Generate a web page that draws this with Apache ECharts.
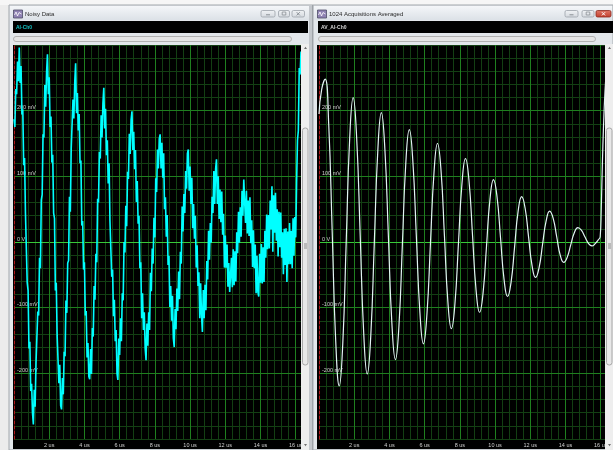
<!DOCTYPE html>
<html>
<head>
<meta charset="utf-8">
<script src="https://cdn.jsdelivr.net/npm/echarts@6/dist/echarts.min.js"></script>
<style>
  html, body { margin: 0; padding: 0; background: #ececec; }
  #chart { width: 613px; height: 450px; }
</style>
</head>
<body>
<div id="chart"></div>
<script>
// ---- Data -------------------------------------------------------------
// Single noisy acquisition, AI-Ch0, one sample every 0.05 us (mV).
const NOISY_STEP_US = 0.05;
const noisyMv = [
  187, 175, 233, 225, 275, 245,
  296, 242, 268, 194, 202, 117, 128, 45, 48, -62, -74, -162, -152, -227, -216, -260,
  -278, -225, -251, -184, -185, -106, -112, -24, -40, 64, 72, 164, 159, 239, 206, 258,
  286, 225, 251, 175, 191, 121, 133, 44, 36, -74, -62, -143, -144, -215, -187, -249,
  -255, -207, -232, -167, -174, -89, -108, -32, -28, 69, 46, 143, 143, 217, 188, 243,
  272, 196, 227, 170, 195, 120, 124, 25, 32, -42, -31, -112, -105, -176, -154, -205,
  -209, -163, -201, -131, -144, -67, -88, -18, -31, 66, 60, 137, 127, 193, 159, 211,
  235, 173, 203, 132, 155, 89, 120, 32, 32, -53, -42, -113, -88, -151, -134, -200,
  -210, -147, -172, -116, -151, -78, -89, 0, -16, 55, 24, 107, 96, 165, 134, 186,
  199, 140, 168, 111, 140, 61, 93, 28, 40, -40, -31, -116, -78, -134, -107, -162,
  -180, -124, -158, -107, -134, -47, -75, -10, -33, 37, 7, 97, 76, 141, 112, 157,
  164, 112, 151, 98, 135, 50, 68, 8, 41, -35, -21, -99, -67, -120, -82, -147,
  -160, -102, -133, -71, -105, -45, -87, -15, -33, 54, 16, 73, 44, 108, 81, 135,
  141, 78, 115, 58, 98, 21, 58, 5, 40, -39, -5, -67, -46, -116, -63, -111,
  -137, -73, -116, -65, -104, -29, -57, 17, -27, 29, -1, 69, 44, 108, 58, 111,
  126, 58, 100, 35, 80, 30, 77, 11, 43, -39, 10, -39, -4, -68, -32, -76,
  -77, -24, -69, -11, -66, -14, -60, 15, -17, 46, -1, 53, 8, 78, 40, 95,
  95, 29, 78, 13, 63, 9, 68, -2, 33, -38, 18, -40, -4, -78, -21, -76,
  -83, -18, -62, -3, -63, -8, -61, 17, -24, 42, -11, 41, -10, 63, 19, 85,
  -15, 71, 14, 75, 2, 50, -22, 46, -8, 45, -24, 15, -49, 20, -35, 21,
  -61, 16, -34, 29, -34, 17, -40, 36, -21, 38, 7, 90, 155, 170, 265, 255, 290
];

// 1024 acquisitions averaged, AV_AI-Ch0 (us, mV).
const averagedTimeUs = [
  0, 0.15, 0.35, 0.55, 0.75, 0.95, 1.15, 1.35, 1.545, 1.74, 1.94,
  2.14, 2.34, 2.54, 2.74, 2.94, 3.14, 3.34, 3.54, 3.74, 3.94, 4.14, 4.34,
  4.54, 4.735, 4.93, 5.13, 5.33, 5.53, 5.73, 5.93, 6.13, 6.33, 6.53, 6.73,
  6.93, 7.125, 7.32, 7.52, 7.72, 7.92, 8.12, 8.32, 8.52, 8.72, 8.92, 9.12,
  9.32, 9.515, 9.71, 9.91, 10.11, 10.31, 10.51, 10.71, 10.91, 11.11, 11.31, 11.51,
  11.71, 11.905, 12.1, 12.3, 12.5, 12.7, 12.9, 13.1, 13.3, 13.5, 13.7, 13.9,
  14.1, 14.3, 14.5, 14.7, 14.9, 15.1, 15.3, 15.5, 15.7, 15.85, 15.97, 16.03,
  16.1, 16.2, 16.3
];
const averagedMv = [
  195, 232, 248, 180, 15, -151, -219, -155, 0, 156, 220,
  158, 10, -139, -201, -143, -2, 139, 197, 142, 9, -124, -179,
  -128, -4, 120, 171, 123, 8, -107, -155, -110, -2, 105, 150,
  109, 9, -91, -132, -94, -2, 89, 127, 93, 10, -73, -107,
  -77, -6, 65, 95, 69, 6, -57, -83, -61, -7, 47, 69,
  51, 7, -36, -54, -39, -3, 32, 47, 36, 8, -20, -31,
  -23, -4, 14, 22, 18, 8, -2, -6, -2, 3, 8, 50,
  125, 205, 255
];

// Axis labelling
const timeLabelsUs = [2, 4, 6, 8, 10, 12, 14, 16];
const voltLabelsMv = [-200, -100, 0, 100, 200];
const windowTitles = ['Noisy Data', '1024 Acquisitions Averaged'];
const channelNames = ['AI-Ch0', 'AV_AI-Ch0'];

// ---- Styling ----------------------------------------------------------
const T_MAX = 16.3;
const FONT = '"Liberation Sans", Arial, sans-serif';
const LABEL_COLOR = '#cfcfcf';
const GRID_MINOR = '#133f13';
const GRID_MAJOR = '#1f7f1f';
const GRID_ZERO = '#38c838';
const PANEL_TOP = 45, PANEL_H = 394, PANEL_W = 287;
const PANEL_LEFTS = [14, 319];

function minorXAxis(gi) {
  return {
    gridIndex: gi, type: 'value', min: 0, max: T_MAX, interval: 0.4,
    position: 'top', z: 0,
    axisLine: { show: false }, axisTick: { show: false }, axisLabel: { show: false },
    splitLine: { show: true, showMinLine: false, showMaxLine: false,
                 lineStyle: { color: GRID_MINOR, width: 1 } }
  };
}
function majorXAxis(gi) {
  return {
    gridIndex: gi, type: 'value', min: 0, max: T_MAX, interval: 2,
    position: 'bottom', z: 1,
    axisLine: { show: false }, axisTick: { show: false },
    axisLabel: {
      margin: 3, color: LABEL_COLOR, fontSize: 5.5, fontFamily: FONT,
      formatter: v => (timeLabelsUs.includes(v) ? v + ' us' : '')
    },
    splitLine: { show: true, showMinLine: false, showMaxLine: false,
                 lineStyle: { color: GRID_MAJOR, width: 1 } }
  };
}
function voltAxis(gi) {
  return {
    gridIndex: gi, type: 'value', min: -300, max: 300, interval: 100,
    position: 'left', z: 1,
    axisLine: { show: true, onZero: false,
                lineStyle: { color: '#b3181b', width: 1, type: [3, 2] } },
    axisTick: { show: false },
    axisLabel: {
      inside: true, margin: 3, verticalAlign: 'bottom',
      color: LABEL_COLOR, fontSize: 5.5, fontFamily: FONT,
      formatter: v => (voltLabelsMv.includes(v) ? (v === 0 ? '0 V' : v + ' mV') : '')
    },
    splitLine: { show: true, lineStyle: { width: 1,
      color: [GRID_MINOR, GRID_MAJOR, GRID_MAJOR, GRID_ZERO, GRID_MAJOR, GRID_MAJOR, GRID_MINOR] } },
    minorTick: { show: false, splitNumber: 5 },
    minorSplitLine: { show: true, lineStyle: { color: GRID_MINOR, width: 1 } }
  };
}

// ---- Window chrome ----------------------------------------------------
function rect(x, y, w, h, fill, z, extra) {
  return Object.assign({ type: 'rect', silent: true, z: z,
    shape: { x: x, y: y, width: w, height: h }, style: { fill: fill } }, extra || {});
}
function text(x, y, str, fill, font, z) {
  return { type: 'text', silent: true, z: z, x: x, y: y,
    style: { text: str, fill: fill, font: font, verticalAlign: 'middle' } };
}
function line(x1, y1, x2, y2, stroke, z, w) {
  return { type: 'line', silent: true, z: z,
    shape: { x1: x1, y1: y1, x2: x2, y2: y2 }, style: { stroke: stroke, lineWidth: w || 1 } };
}
function tri(points, fill, z) {
  return { type: 'polygon', silent: true, z: z, shape: { points: points }, style: { fill: fill } };
}
const titleFill = { type: 'linear', x: 0, y: 0, x2: 0, y2: 1,
  colorStops: [{ offset: 0, color: '#f4f6f9' }, { offset: 1, color: '#dce1e7' }] };
const buttonFill = { type: 'linear', x: 0, y: 0, x2: 0, y2: 1,
  colorStops: [{ offset: 0, color: '#f2f4f6' }, { offset: 1, color: '#d3d8de' }] };
const closeFill = { type: 'linear', x: 0, y: 0, x2: 0, y2: 1,
  colorStops: [{ offset: 0, color: '#e07a6a' }, { offset: 1, color: '#c23d2c' }] };

function windowChrome(x0, w, titleIdx, buttons, closeRed) {
  const els = [];
  els.push(rect(x0, 5, w, 445, '#e3e7eb', -5, { style: { fill: '#e3e7eb', stroke: '#a3a8ad', lineWidth: 1 } }));
  els.push(rect(x0 + 1, 6, w - 2, 14, titleFill, -4));
  // icon
  els.push(rect(x0 + 4.5, 10, 9, 8, '#8f82b3', 10, { style: { fill: '#8f82b3', stroke: '#4d4d66', lineWidth: 0.8 } }));
  els.push({ type: 'polyline', silent: true, z: 11,
    shape: { points: [[x0 + 5.5, 15], [x0 + 7, 12], [x0 + 8.5, 16], [x0 + 10, 12.5], [x0 + 12.5, 14]] },
    style: { stroke: '#ffffff', lineWidth: 0.8, fill: null } });
  els.push(text(x0 + 16, 14, windowTitles[titleIdx], '#2b2b2b', '6px ' + FONT, 10));
  // title-bar buttons
  buttons.forEach((b, i) => {
    const isClose = i === 2;
    const fill = isClose && closeRed ? closeFill : buttonFill;
    els.push(rect(b[0], 10.5, b[1], 6.5, fill, 10,
      { shape: { x: b[0], y: 10.5, width: b[1], height: 6.5, r: 1.5 },
        style: { fill: fill, stroke: isClose && closeRed ? '#8c2a1f' : '#9ca2a9', lineWidth: 0.8 } }));
    const cx = b[0] + b[1] / 2;
    const glyph = isClose && closeRed ? '#ffffff' : '#8a9096';
    if (i === 0) els.push(line(cx - 2, 14.8, cx + 2, 14.8, glyph, 11, 1));
    if (i === 1) els.push(rect(cx - 1.8, 12, 3.6, 3, null, 11, { style: { fill: null, stroke: glyph, lineWidth: 0.8 } }));
    if (i === 2) {
      els.push(line(cx - 1.6, 12.2, cx + 1.6, 15.4, glyph, 11, 1));
      els.push(line(cx - 1.6, 15.4, cx + 1.6, 12.2, glyph, 11, 1));
    }
  });
  return els;
}

const graphics = []
  .concat([rect(0, 0, 613, 5, '#f6f6f6', -6)])
  .concat(windowChrome(9, 304, 0, [[261, 14], [278.5, 11], [292, 12.5]], false))
  .concat(windowChrome(313, 300, 1, [[565, 13], [582, 12], [596, 15]], true))
  .concat([
    // channel name bars
    rect(13, 21, 295, 12, '#000000', -3),
    rect(318, 21, 295, 12, '#000000', -3),
    text(16, 27.2, channelNames[0], '#14c4c4', 'bold 5px ' + FONT, 10),
    text(321, 27.2, channelNames[1], '#d8d8d8', 'bold 5px ' + FONT, 10),
    // horizontal scroll tracks
    rect(13.5, 36.5, 278, 5, '#e6e6e6', -3,
      { shape: { x: 13.5, y: 36.5, width: 278, height: 5, r: 2.5 }, style: { fill: '#e6e6e6', stroke: '#b2b2b2', lineWidth: 1 } }),
    rect(318.5, 36.5, 277, 5, '#e6e6e6', -3,
      { shape: { x: 318.5, y: 36.5, width: 277, height: 5, r: 2.5 }, style: { fill: '#e6e6e6', stroke: '#b2b2b2', lineWidth: 1 } }),
    // black plot panels (include the time-label band)
    rect(13, 45, 288, 404, '#000000', -3),
    rect(317, 45, 288, 404, '#000000', -3),
    // vertical scroll strips and window separator, drawn over the plots' edges
    rect(301, 44, 8, 406, '#eeeeee', 50),
    rect(309, 5, 4, 445, '#c3c7cc', 50),
    line(312.5, 5, 312.5, 450, '#9ea3a8', 51, 1),
    rect(605, 44, 8, 406, '#eeeeee', 50),
    rect(302.5, 128, 5.5, 237, '#e8e8e8', 51,
      { shape: { x: 302.5, y: 128, width: 5.5, height: 237, r: 2.5 }, style: { fill: '#e8e8e8', stroke: '#a8a8a8', lineWidth: 1 } }),
    rect(606.5, 128, 5.5, 237, '#e8e8e8', 51,
      { shape: { x: 606.5, y: 128, width: 5.5, height: 237, r: 2.5 }, style: { fill: '#e8e8e8', stroke: '#a8a8a8', lineWidth: 1 } }),
    line(304, 244, 307, 244, '#8d8d8d', 52), line(304, 246, 307, 246, '#8d8d8d', 52), line(304, 248, 307, 248, '#8d8d8d', 52),
    line(608, 244, 611, 244, '#8d8d8d', 52), line(608, 246, 611, 246, '#8d8d8d', 52), line(608, 248, 611, 248, '#8d8d8d', 52),
    tri([[304, 49], [307, 49], [305.5, 46.8]], '#6f6f6f', 52),
    tri([[304, 444], [307, 444], [305.5, 446.3]], '#6f6f6f', 52),
    tri([[608, 49], [611, 49], [609.5, 46.8]], '#6f6f6f', 52),
    tri([[608, 444], [611, 444], [609.5, 446.3]], '#6f6f6f', 52)
  ]);

// ---- Chart ------------------------------------------------------------
const chart = echarts.init(document.getElementById('chart'), null, { renderer: 'canvas' });
chart.setOption({
  backgroundColor: '#ececec',
  animation: false,
  grid: PANEL_LEFTS.map(l => ({ left: l, top: PANEL_TOP, width: PANEL_W, height: PANEL_H,
                                 outerBoundsMode: 'none', containLabel: false })),
  xAxis: [majorXAxis(0), minorXAxis(0), majorXAxis(1), minorXAxis(1)],
  yAxis: [voltAxis(0), voltAxis(1)],
  series: [
    {
      name: 'AI-Ch0', type: 'line', xAxisIndex: 0, yAxisIndex: 0, z: 3,
      data: noisyMv.map((v, i) => [+(i * NOISY_STEP_US).toFixed(2), v]),
      showSymbol: false, clip: true,
      lineStyle: { color: '#00ffff', width: 1.6 }
    },
    {
      name: 'AV_AI-Ch0', type: 'line', xAxisIndex: 2, yAxisIndex: 1, z: 3,
      data: averagedTimeUs.map((t, i) => [t, averagedMv[i]]),
      showSymbol: false, smooth: 0.5, clip: true,
      lineStyle: { color: '#e2f4f4', width: 1.2 }
    }
  ],
  graphic: { elements: graphics }
});
</script>
</body>
</html>
